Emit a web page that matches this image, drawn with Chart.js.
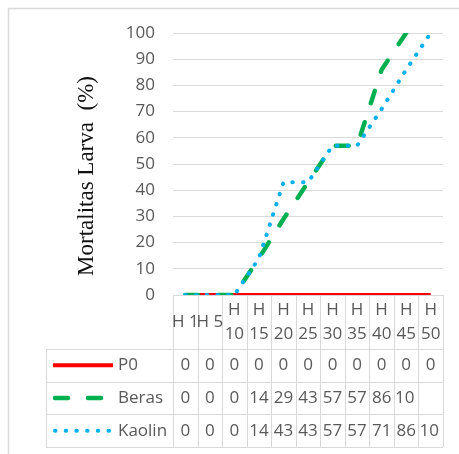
<!DOCTYPE html>
<html>
<head>
<meta charset="utf-8">
<script src="https://cdn.jsdelivr.net/npm/chart.js@4.4.0/dist/chart.umd.min.js"></script>
<style>
    html, body { margin: 0; padding: 0; background: #fff; }
</style>
</head>
<body>
<canvas id="myChart" width="459" height="454"></canvas>
<script>
// data
var days = ["H 1", "H 5", "H 10", "H 15", "H 20", "H 25", "H 30", "H 35", "H 40", "H 45", "H 50"];
var p0 = [0, 0, 0, 0, 0, 0, 0, 0, 0, 0, 0];
var beras = [0, 0, 0, 14, 29, 43, 57, 57, 86, 100, null];
var kaolin = [0, 0, 0, 14, 43, 43, 57, 57, 71, 86, 100];
var seriesNames = ["P0", "Beras", "Kaolin"];
var yTitle = "Mortalitas Larva  (%)";

var gridColor = '#d9d9d9';
var textColor = '#595959';
var textFont = '17px "Open Sans"';

// draws the data table under the plot, using the x scale for columns
var dataTable = {
    id: 'dataTable',
    beforeDatasetsDraw: function (chart) {
        var ctx = chart.ctx;
        var x = chart.scales.x;
        var area = chart.chartArea;
        var colW = x.getPixelForValue(1) - x.getPixelForValue(0);
        var top = area.bottom;
        var headBottom = top + 54;
        var rowH = 32.7;
        var keyLeft = 46;
        var n = chart.data.datasets.length;
        var bottom = headBottom + rowH * n;

        ctx.save();
        ctx.strokeStyle = gridColor;
        ctx.lineWidth = 1;
        ctx.beginPath();
        // vertical column lines
        for (var i = 0; i <= days.length; i++) {
            var cx = Math.round(area.left + i * colW) + 0.5;
            ctx.moveTo(cx, top);
            ctx.lineTo(cx, bottom);
        }
        ctx.moveTo(keyLeft + 0.5, headBottom);
        ctx.lineTo(keyLeft + 0.5, bottom);
        // horizontal row lines
        for (var r = 0; r <= n; r++) {
            var ry = Math.round(headBottom + r * rowH) + 0.5;
            ctx.moveTo(keyLeft, ry);
            ctx.lineTo(area.right, ry);
        }
        ctx.stroke();

        ctx.font = textFont;
        ctx.fillStyle = textColor;
        ctx.textAlign = 'center';
        ctx.textBaseline = 'middle';
        // header labels
        var headMid = (top + headBottom) / 2;
        days.forEach(function (d, i) {
            var cx = x.getPixelForValue(i);
            if (ctx.measureText(d).width > colW * 1.15) {
                var parts = d.split(' ');
                ctx.fillText(parts[0], cx, headMid - 12);
                ctx.fillText(parts[1], cx, headMid + 12);
            } else {
                ctx.fillText(d, cx, headMid);
            }
        });

        // rows: legend key + values
        chart.data.datasets.forEach(function (ds, r) {
            var my = headBottom + r * rowH + rowH / 2;
            ctx.save();
            ctx.strokeStyle = ds.borderColor;
            ctx.lineWidth = ds.borderWidth;
            ctx.lineCap = ds.borderCapStyle || 'butt';
            ctx.setLineDash(ds.borderDash || []);
            ctx.beginPath();
            ctx.moveTo(ds.keyStart, my);
            ctx.lineTo(113, my);
            ctx.stroke();
            ctx.restore();

            ctx.textAlign = 'left';
            ctx.fillText(ds.label, 118, my);
            ctx.textAlign = 'center';
            ds.data.forEach(function (v, i) {
                if (v === null) return;
                var s = String(v);
                while (ctx.measureText(s).width > colW - 1) {
                    s = s.slice(0, -1);
                }
                if (s !== String(v)) {
                    ctx.textAlign = 'left';
                    ctx.fillText(s, area.left + i * colW + 1, my);
                    ctx.textAlign = 'center';
                } else {
                    ctx.fillText(s, x.getPixelForValue(i), my);
                }
            });
        });
        ctx.restore();
    },
    afterDraw: function (chart) {
        var ctx = chart.ctx;
        var area = chart.chartArea;
        ctx.save();
        // outer frame
        ctx.strokeStyle = gridColor;
        ctx.lineWidth = 1.5;
        ctx.strokeRect(8.5, 8.5, 480, 480);
        // axis title
        ctx.translate(87, (area.top + area.bottom) / 2 + 12);
        ctx.rotate(-Math.PI / 2);
        ctx.font = '23px "Liberation Serif"';
        ctx.fillStyle = '#111';
        ctx.textAlign = 'center';
        ctx.textBaseline = 'middle';
        ctx.fillText(yTitle, 0, 0);
        ctx.restore();
    }
};

var ctx = document.getElementById('myChart').getContext('2d');
var chart = new Chart(ctx, {
    type: 'line',
    data: {
        labels: days,
        datasets: [{
                label: seriesNames[0],
                data: p0,
                borderColor: '#ff0000',
                borderWidth: 4,
                keyStart: 53,
                order: 2
            }, {
                label: seriesNames[1],
                data: beras,
                borderColor: '#00b050',
                borderWidth: 4.5,
                borderDash: [13, 20],
                borderCapStyle: 'round',
                keyStart: 55,
                order: 1
            }, {
                label: seriesNames[2],
                data: kaolin,
                borderColor: '#00b0f0',
                borderWidth: 4,
                borderDash: [0.5, 10.2],
                borderCapStyle: 'round',
                keyStart: 55,
                order: 0
            }]
    },
    options: {
        responsive: false,
        animation: false,
        layout: {
            padding: { left: 0, right: 16, top: 33, bottom: 159 }
        },
        elements: {
            point: { radius: 0 },
            line: { tension: 0 }
        },
        scales: {
            x: {
                type: 'category',
                display: false,
                offset: true
            },
            y: {
                min: 0,
                max: 100,
                afterFit: function (s) { s.width = 173; },
                border: { display: false },
                grid: { color: gridColor, lineWidth: 1, drawTicks: false },
                ticks: {
                    stepSize: 10,
                    padding: 18,
                    color: textColor,
                    font: { family: 'Open Sans', size: 17 }
                }
            }
        },
        plugins: {
            legend: { display: false },
            tooltip: { enabled: false }
        }
    },
    plugins: [dataTable]
});
</script>
</body>
</html>
